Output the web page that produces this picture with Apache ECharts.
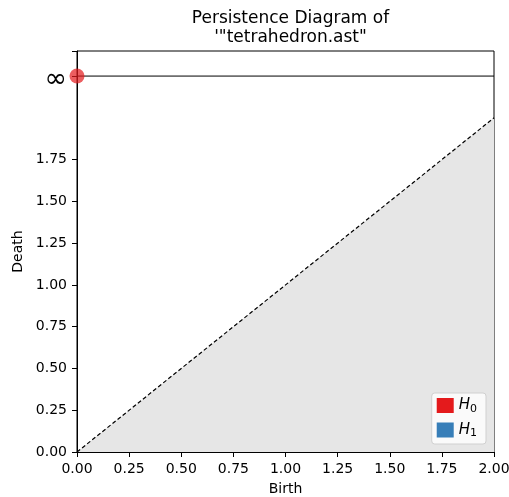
<!DOCTYPE html>
<html>
<head>
<meta charset="utf-8">
<script src="https://cdn.jsdelivr.net/npm/echarts@6/dist/echarts.min.js"></script>
<style>html,body{margin:0;padding:0;background:#fff}#c{width:509px;height:497px}</style>
</head>
<body>
<div id="c"></div>
<script>
// Data
var h0Births = [0.0];
var h0Deaths = [Infinity];
var h1Births = [];
var h1Deaths = [];
var xTicks = [0, 0.25, 0.5, 0.75, 1.0, 1.25, 1.5, 1.75, 2.0];
var yTicks = [0, 0.25, 0.5, 0.75, 1.0, 1.25, 1.5, 1.75];
var infValue = 2.25;
var yMax = 2.4;
var xMax = 2.0;

function toPts(b, d) {
  return b.map(function (v, i) { return [v, isFinite(d[i]) ? d[i] : infValue]; });
}

var chart = echarts.init(document.getElementById('c'), null, {renderer: 'canvas'});
var font = 'DejaVu Sans';
chart.setOption({
  animation: false,
  textStyle: {fontFamily: font},
  title: {
    text: 'Persistence Diagram of\n\'"tetrahedron.ast"',
    left: 285.5, textAlign: 'center', top: 4,
    textStyle: {fontFamily: font, fontSize: 17, fontWeight: 'normal', color: '#000', lineHeight: 19}
  },
  grid: {left: 77, right: 15, top: 51, bottom: 45, show: true, borderColor: '#000', borderWidth: 1,
    backgroundColor: 'transparent', outerBoundsMode: 'none', containLabel: false},
  xAxis: {
    type: 'value', min: 0, max: xMax, interval: 0.25,
    name: 'Birth', nameLocation: 'middle', nameGap: 30,
    nameTextStyle: {fontFamily: font, fontSize: 14, color: '#000'},
    axisLine: {show: true, lineStyle: {color: '#000', width: 1}},
    axisTick: {show: true, length: 5, lineStyle: {color: '#000'}, customValues: xTicks},
    axisLabel: {customValues: xTicks, fontFamily: font, fontSize: 14, color: '#000', margin: 10,
      formatter: function (v) { return v.toFixed(2); }},
    splitLine: {show: false}
  },
  yAxis: {
    type: 'value', min: 0, max: yMax,
    name: 'Death', nameLocation: 'middle', nameGap: 48,
    nameTextStyle: {fontFamily: font, fontSize: 14, color: '#000'},
    axisLine: {show: true, lineStyle: {color: '#000', width: 1}},
    axisTick: {show: true, length: 5, lineStyle: {color: '#000'}, customValues: yTicks.concat([infValue, yMax])},
    axisLabel: {customValues: yTicks.concat([infValue]), fontFamily: font, fontSize: 14, color: '#000', margin: 10,
      formatter: function (v) { return Math.abs(v - infValue) < 1e-9 ? '{inf|∞}' : v.toFixed(2); },
      rich: {inf: {fontFamily: font, fontSize: 27, color: '#000', padding: [8, 0, 0, 0]}}},
    splitLine: {show: false}
  },
  legend: {
    right: 23, bottom: 53, orient: 'vertical',
    itemWidth: 17, itemHeight: 15, itemGap: 8, icon: 'rect',
    backgroundColor: 'rgba(255,255,255,0.8)', borderColor: '#d0d0d0', borderWidth: 1, borderRadius: 3,
    padding: [5, 9, 5, 5],
    data: [{name: 'H0', itemStyle: {opacity: 1}}, {name: 'H1', itemStyle: {opacity: 1}}],
    formatter: function (n) { return '{i|H}{s|' + n.slice(1) + '}'; },
    textStyle: {rich: {
      i: {fontFamily: font, fontStyle: 'italic', fontSize: 15, color: '#000'},
      s: {fontFamily: font, fontSize: 11, color: '#000', verticalAlign: 'bottom', padding: [7, 0, 0, 0]}
    }}
  },
  series: [
    {
      type: 'line', silent: true, data: [[0, 0], [xMax, xMax]], symbol: 'none',
      lineStyle: {color: '#000', width: 1.2, type: [4, 2.5]},
      areaStyle: {color: '#e6e6e6', opacity: 1, origin: 'start'}, z: 1
    },
    {
      type: 'line', silent: true, data: [[0, infValue], [xMax, infValue]], symbol: 'none',
      lineStyle: {color: '#000', width: 1}, z: 2
    },
    {
      name: 'H0', type: 'scatter', data: toPts(h0Births, h0Deaths), symbolSize: 15,
      itemStyle: {color: '#e41a1c', opacity: 0.7}, z: 5, clip: false
    },
    {
      name: 'H1', type: 'scatter', data: toPts(h1Births, h1Deaths), symbolSize: 15,
      itemStyle: {color: '#377eb8', opacity: 0.7}, z: 5, clip: false
    }
  ]
});
</script>
</body>
</html>
